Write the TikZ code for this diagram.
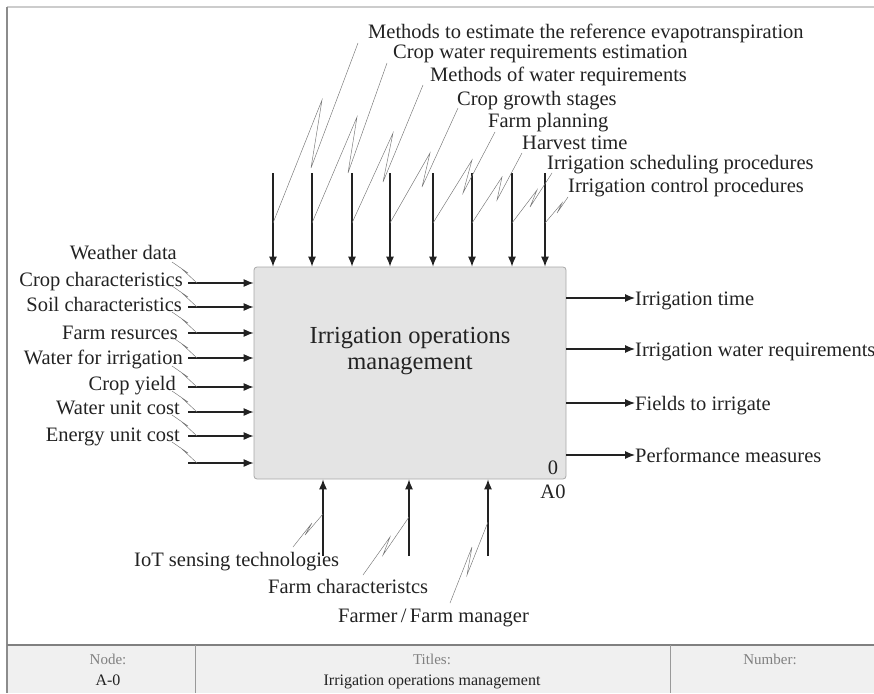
\documentclass[tikz,border=0pt]{standalone}
\usepackage{fontspec}
\setmainfont{Liberation Serif}
\usetikzlibrary{arrows.meta}
\definecolor{boxfill}{HTML}{E4E4E4}
\definecolor{boxline}{HTML}{A8A8A8}
\definecolor{tabfill}{HTML}{F0F0F0}
\definecolor{ink}{HTML}{222222}
\begin{document}
\begin{tikzpicture}[x=1pt,y=-1pt,
  arr/.style={draw=ink, line width=1.1pt, -{Latex[length=10pt,width=8pt]}},
  sq/.style={draw=black!55, line width=0.45pt},
  lab/.style={inner sep=0pt, font=\fontsize{20.5}{23}\selectfont, text=ink},
  tlab/.style={inner sep=0pt, font=\fontsize{15}{17}\selectfont, text=black!50},
  tval/.style={inner sep=0pt, font=\fontsize{16}{18}\selectfont, text=ink},
]
\useasboundingbox (0,0) rectangle (874,693);
% frame and table
\fill[tabfill] (7,645) rectangle (874,693);
\draw[black!20, line width=1.2pt] (7,7) -- (874,7);
\draw[black!45, line width=2pt] (7,7) -- (7,693);
\draw[black!50, line width=1.2pt] (7,645) -- (874,645);
\draw[black!40, line width=0.8pt] (195,645) -- (195,693) (670,645) -- (670,693);
\node[tlab, anchor=base] (tn) at (108,664) {Node:};
\node[tval, anchor=base] (tnv) at (108,685) {A-0};
\node[tlab, anchor=base] (tt) at (432,664) {Titles:};
\node[tval, anchor=base] (ttv) at (432,685) {Irrigation operations management};
\node[tlab, anchor=base] (tnum) at (770,664) {Number:};

% main box
\node[draw=boxline, fill=boxfill, rounded corners=3pt, line width=0.8pt,
      minimum width=312pt, minimum height=212pt, inner sep=0pt] (box) at (410,373) {};
\node[inner sep=0pt, font=\fontsize{24.5}{26}\selectfont, text=ink, align=center] (boxt) at (410,351)
  {Irrigation operations\\management};
\node[lab, anchor=base] (num) at (553,474) {0};
\node[lab, anchor=base] (a0) at (553,498) {A0};

% top controls
\foreach \i/\x in {1/273,2/312,3/352,4/390,5/433,6/472,7/512,8/545}{
  \coordinate (t\i) at (\x,173);
  \draw[arr] (t\i) -- (t\i |- box.north);
}
\node[lab, anchor=base west] (c1) at (368,39) {Methods to estimate the reference evapotranspiration};
\node[lab, anchor=base west] (c2) at (393,59) {Crop water requirements estimation};
\node[lab, anchor=base west] (c3) at (430,81) {Methods of water requirements};
\node[lab, anchor=base west] (c4) at (457,105) {Crop growth stages};
\node[lab, anchor=base west] (c5) at (488,127) {Farm planning};
\node[lab, anchor=base west] (c6) at (522,149) {Harvest time};
\node[lab, anchor=base west] (c7) at (547,169) {Irrigation scheduling procedures};
\node[lab, anchor=base west] (c8) at (568,192) {Irrigation control procedures};
\draw[sq] (273,223) -- (322,100) -- (311,168) -- (358,43);
\draw[sq] (312,223) -- (357,117) -- (348,173) -- (387,63);
\draw[sq] (352,223) -- (393,133) -- (383,182) -- (423,85);
\draw[sq] (390,223) -- (430,153) -- (422,187) -- (458,108);
\draw[sq] (433,223) -- (472,160) -- (463,193) -- (495,132);
\draw[sq] (472,223) -- (502,177) -- (497,200) -- (522,153);
\draw[sq] (512,223) -- (537,190) -- (530,207) -- (552,173);
\draw[sq] (545,223) -- (562,203) -- (557,213) -- (568,197);

% left inputs
\foreach \i/\y in {1/283,2/307,3/333,4/358,5/387,6/412,7/436,8/463}{
  \coordinate (l\i) at (188,\y);
  \draw[arr] (l\i) -- (l\i -| box.west);
  \draw[sq] (197,\y) -- (183,\y-13) -- (188,\y-10) -- (172,\y-21);
}
\node[lab, anchor=base east] (i1) at (177,259) {Weather data};
\node[lab, anchor=base east] (i2) at (183,286) {Crop characteristics};
\node[lab, anchor=base east] (i3) at (182,311) {Soil characteristics};
\node[lab, anchor=base east] (i4) at (178,339) {Farm resurces};
\node[lab, anchor=base east] (i5) at (183,364) {Water for irrigation};
\node[lab, anchor=base east] (i6) at (176,390) {Crop yield};
\node[lab, anchor=base east] (i7) at (180,414) {Water unit cost};
\node[lab, anchor=base east] (i8) at (180,441) {Energy unit cost};

% right outputs
\foreach \i/\y/\t in {1/298/Irrigation time,2/349/Irrigation water requirements,3/403/Fields to irrigate,4/455/Performance measures}{
  \node[lab, anchor=base west] (o\i) at (635,\y+7) {\t};
  \draw[arr] (box.east |- 0,\y) -- (o\i.west |- 0,\y);
}

% bottom mechanisms
\foreach \i/\x in {1/323,2/409,3/488}{
  \coordinate (b\i) at (\x,556);
  \draw[arr] (b\i) -- (b\i |- box.south);
}
\node[lab, anchor=base west] (m1) at (134,566) {IoT sensing technologies};
\node[lab, anchor=base west] (m2) at (268,593) {Farm characteristcs};
\node[lab, anchor=base west] (m3) at (338,622) {Farmer\,/\,Farm manager};
\draw[sq] (323,514) -- (305,535) -- (312,523) -- (293,547);
\draw[sq] (409,517) -- (383,555) -- (390,537) -- (363,575);
\draw[sq] (488,522) -- (467,575) -- (472,547) -- (450,603);
\end{tikzpicture}
\end{document}
